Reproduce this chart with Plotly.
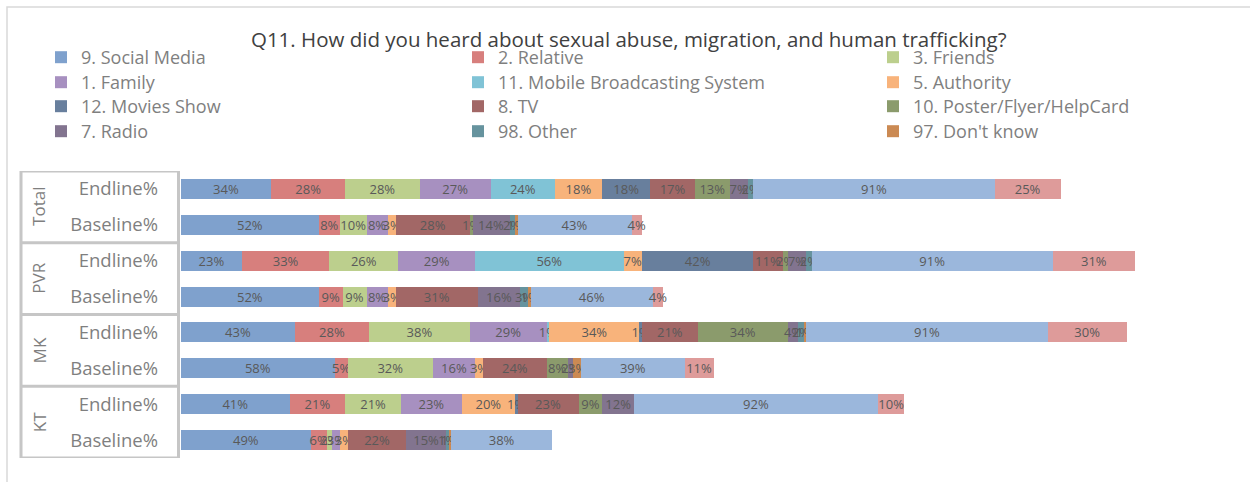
import plotly.graph_objects as go

# ---------------- data ----------------
groups = ["Total", "PVR", "MK", "KT"]
rounds = ["Endline%", "Baseline%"]

series_names = [
    "9. Social Media", "2. Relative", "3. Friends",
    "1. Family", "11. Mobile Broadcasting System", "5. Authority",
    "12. Movies Show", "8. TV", "10. Poster/Flyer/HelpCard",
    "7. Radio", "98. Other", "97. Don't know",
    "Unlabelled series A", "Unlabelled series B",
]

# row order: Total E, Total B, PVR E, PVR B, MK E, MK B, KT E, KT B
social_media = [34, 52, 23, 52, 43, 58, 41, 49]
relative     = [28, 8, 33, 9, 28, 5, 21, 6]
friends      = [28, 10, 26, 9, 38, 32, 21, 2]
family       = [27, 8, 29, 8, 29, 16, 23, 3]
mobile_bc    = [24, 0, 56, 0, 1, 0, 0, 0]
authority    = [18, 3, 7, 3, 34, 3, 20, 3]
movies_show  = [18, 0, 42, 0, 1, 0, 1, 0]
tv           = [17, 28, 11, 31, 21, 24, 23, 22]
poster       = [13, 1, 2, 0, 34, 8, 9, 0]
radio        = [7, 14, 7, 16, 4, 2, 12, 15]
other        = [2, 2, 2, 3, 2, 0, 0, 1]
dont_know    = [0, 1, 0, 1, 1, 3, 0, 1]
extra_a      = [91, 43, 91, 46, 91, 39, 92, 38]
extra_b      = [25, 4, 31, 4, 30, 11, 10, 0]

series_values = [social_media, relative, friends, family, mobile_bc, authority,
                 movies_show, tv, poster, radio, other, dont_know, extra_a, extra_b]

title_text = "Q11. How did you heard about sexual abuse, migration, and human trafficking?"

# ---------------- style ----------------
colors = ["#7fa1cd", "#d77f7d", "#bccf8d", "#a790c0", "#80c3d6", "#f8b37b",
          "#687f9d", "#a26766", "#8b9b6c", "#82748f", "#66939e", "#cb8a53",
          "#9bb7dc", "#de9b9a"]
in_legend = [True] * 12 + [False, False]

FONT = "Open Sans, Noto Sans, sans-serif"
PLOT_L, PLOT_W, PLOT_T, PLOT_H = 181, 1060, 171, 287
W, H = 1250, 482
LEG_COL_X = [41, 458, 873]          # legend column left edges (px)
LEG_ROW_TOP = [39, 64, 88, 113]     # legend row tops (px)


def xp(px):
    return (px - PLOT_L) / PLOT_W


def yp(py):
    return 1 - (py - PLOT_T) / PLOT_H


row_keys = [f"{g} {r}" for g in groups for r in rounds]
row_labels = [r for g in groups for r in rounds]

fig = go.Figure()
legend_layouts = {}
for i, (name, vals, col, show) in enumerate(zip(series_names, series_values, colors, in_legend)):
    leg_id = "legend" if i == 0 else f"legend{i + 1}"
    fig.add_trace(go.Bar(
        y=row_keys, x=vals, name=name, orientation="h",
        marker=dict(color=col, line=dict(width=0)),
        texttemplate="%{x}%", textposition="inside", insidetextanchor="middle",
        constraintext="none", textangle=0,
        textfont=dict(family=FONT, size=13, color="#595959"),
        showlegend=show, legend=leg_id if show else "legend",
    ))
    if show:
        r, c = divmod(i, 3)
        legend_layouts[leg_id] = dict(
            orientation="v", x=xp(LEG_COL_X[c]), xanchor="left",
            y=yp(LEG_ROW_TOP[r]), yanchor="top", itemwidth=30,
            font=dict(family=FONT, size=18, color="#7f7f7f"),
            bgcolor="rgba(0,0,0,0)")

shapes = []
# outer chart frame
shapes.append(dict(type="rect", xref="paper", yref="paper",
                   x0=xp(7), x1=xp(1265), y0=yp(7), y1=yp(495),
                   line=dict(color="#d9d9d9", width=1.5), layer="below"))
# table lines
line_col = "#c6c6c6"
for b in [-0.5, 1.5, 3.5, 5.5, 7.5]:
    shapes.append(dict(type="line", xref="paper", yref="y",
                       x0=xp(20), x1=xp(180), y0=b, y1=b,
                       line=dict(color=line_col, width=3)))
for px in [21, 178.5]:
    shapes.append(dict(type="line", xref="paper", yref="y",
                       x0=xp(px), x1=xp(px), y0=-0.5, y1=7.5,
                       line=dict(color=line_col, width=3)))

annotations = []
for i, g in enumerate(groups):
    annotations.append(dict(
        text=g, xref="paper", yref="y", x=xp(39), y=2 * i + 0.5,
        textangle=-90, showarrow=False, xanchor="center", yanchor="middle",
        font=dict(family=FONT, size=17, color="#7f7f7f")))

fig.update_layout(
    width=W, height=H,
    margin=dict(l=PLOT_L, r=W - PLOT_L - PLOT_W, t=PLOT_T, b=H - PLOT_T - PLOT_H, pad=0),
    barmode="stack", bargap=0.44,
    paper_bgcolor="white", plot_bgcolor="white",
    font=dict(family=FONT, color="#595959"),
    title=dict(text=title_text, x=0.503, xref="container", xanchor="center",
               y=1 - 40 / H, yref="container", yanchor="middle",
               font=dict(family=FONT, size=20.5, color="#404040")),
    xaxis=dict(range=[0, 400], visible=False, showgrid=False, zeroline=False),
    yaxis=dict(type="category", categoryorder="array", categoryarray=row_keys,
               range=[7.5, -0.5], tickvals=row_keys, ticktext=row_labels,
               ticks="", showline=False, showgrid=False, ticklabelstandoff=22,
               tickfont=dict(family=FONT, size=18.5, color="#7f7f7f")),
    shapes=shapes, annotations=annotations,
    **legend_layouts,
)

fig.write_html("out.html")
